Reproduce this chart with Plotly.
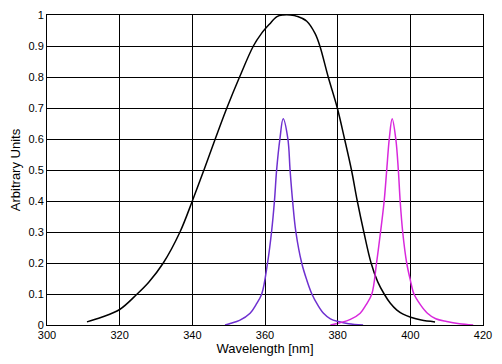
import plotly.graph_objects as go

# Black broad spectrum
black_nm = [311, 315, 320, 324.8, 328, 332, 336.6, 340, 343.2, 346.3, 349.5, 353, 356.8, 359,
            361.2, 363.3, 365, 367, 369, 371.5, 373.8, 375.1, 377.4, 379.9, 381.9, 383.8, 385.4,
            387.2, 389.2, 391, 392.8, 394.5, 396.3, 398, 400.1, 403, 406.8]
black_val = [0.01, 0.025, 0.05, 0.10, 0.138, 0.20, 0.30, 0.40, 0.50, 0.60, 0.70, 0.80, 0.90, 0.94,
             0.97, 0.995, 1.0, 1.0, 0.995, 0.98, 0.94, 0.90, 0.80, 0.70, 0.60, 0.50, 0.40,
             0.30, 0.20, 0.14, 0.10, 0.07, 0.048, 0.035, 0.025, 0.016, 0.01]

# Purple narrow peak at 365 nm
purple_nm = [349, 350.4, 353, 355.9, 357.5, 359.1, 360.7, 361.8, 362.6, 363.2, 364.1, 365,
             366.3, 366.9, 367.6, 368.5, 370.1, 371.5, 372.9, 374.5, 376.1, 378, 380.2, 383, 387]
purple_val = [0, 0.005, 0.015, 0.038, 0.065, 0.10, 0.20, 0.30, 0.40, 0.50, 0.60, 0.665,
              0.60, 0.50, 0.40, 0.30, 0.20, 0.145, 0.10, 0.065, 0.038, 0.02, 0.011, 0.004, 0]

# Magenta narrow peak at 395 nm
magenta_nm = [378, 380.6, 383.5, 386.2, 387.8, 389.4, 390.7, 391.8, 392.8, 393.5, 394.2, 395,
              396, 396.7, 397.2, 397.9, 399, 400, 401, 402.8, 404.7, 407, 410, 413.5, 417.3]
magenta_val = [0, 0.007, 0.018, 0.038, 0.065, 0.10, 0.20, 0.30, 0.40, 0.50, 0.60, 0.665,
               0.60, 0.50, 0.40, 0.30, 0.20, 0.145, 0.10, 0.065, 0.038, 0.02, 0.011, 0.004, 0]

x_ticks = [300, 320, 340, 360, 380, 400, 420]
y_ticks = [0, 0.1, 0.2, 0.3, 0.4, 0.5, 0.6, 0.7, 0.8, 0.9, 1]
y_tick_labels = ["0", "0.1", "0.2", "0.3", "0.4", "0.5", "0.6", "0.7", "0.8", "0.9", "1"]

fig = go.Figure()
fig.add_trace(go.Scatter(x=black_nm, y=black_val, mode="lines",
                         line=dict(color="black", width=1.5), line_shape="spline", showlegend=False))
fig.add_trace(go.Scatter(x=purple_nm, y=purple_val, mode="lines",
                         line=dict(color="#6e30d0", width=1.5), line_shape="spline", showlegend=False))
fig.add_trace(go.Scatter(x=magenta_nm, y=magenta_val, mode="lines",
                         line=dict(color="#d828dc", width=1.5), line_shape="spline", showlegend=False))

axis_common = dict(showline=True, linecolor="black", linewidth=1, mirror=True,
                   showgrid=True, gridcolor="black", gridwidth=1, automargin=False,
                   ticks="inside", ticklen=3, tickcolor="black", zeroline=False,
                   tickfont=dict(family="Liberation Sans, Arial, sans-serif", size=11, color="black"))

fig.update_layout(
    width=486, height=348,
    margin=dict(l=39, r=11, t=7, b=31),
    paper_bgcolor="white", plot_bgcolor="white",
    font=dict(family="Liberation Sans, Arial, sans-serif", size=11, color="black"),
    xaxis=dict(range=[300, 420], tickvals=x_ticks, title=dict(text="Wavelength [nm]", standoff=7),
               **axis_common),
    yaxis=dict(range=[0, 1], tickvals=y_ticks, ticktext=y_tick_labels,
               title=dict(text="Arbitrary Units", standoff=8), **axis_common),
)

fig.write_html("out.html")
